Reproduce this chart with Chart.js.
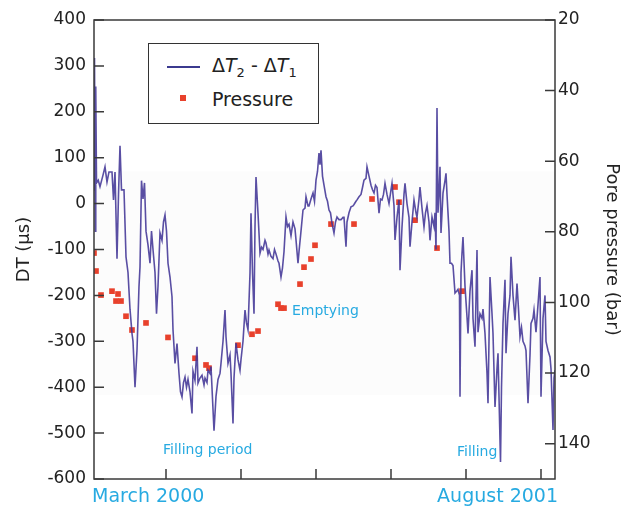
<!DOCTYPE html>
<html>
<head>
<meta charset="utf-8">
<script src="https://cdn.jsdelivr.net/npm/chart.js@4"></script>
<style>
  body { margin: 0; background: #fff; }
  #wrap { position: relative; width: 631px; height: 510px; font-family: "DejaVu Sans", sans-serif; }
  .note { position: absolute; color: #27aae1; line-height: 1; white-space: nowrap; }
  #legend { position: absolute; left: 148px; top: 43px; width: 169px; height: 79px; border: 1px solid #333; background: #fff; }
  #legend .txt { position: absolute; left: 63px; font-size: 19px; line-height: 1; color: #222; white-space: nowrap; }
  #legend .sub { font-size: 13px; position: relative; top: 5px; }
</style>
</head>
<body>
<div id="wrap">
  <canvas id="chart" width="631" height="510"></canvas>
  <div id="legend">
    <div style="position:absolute;left:18px;top:22px;width:33px;height:2px;background:#3b3a8f"></div>
    <div class="txt" style="top:12px">Δ<i>T</i><span class="sub">2</span> - Δ<i>T</i><span class="sub">1</span></div>
    <div style="position:absolute;left:31px;top:51px;width:6px;height:6px;background:#e8412c"></div>
    <div class="txt" style="top:46px">Pressure</div>
  </div>
  <div class="note" id="fillingPeriod" style="left:163px;top:442px;font-size:14px"></div>
  <div class="note" id="emptying" style="left:292px;top:303px;font-size:14px"></div>
  <div class="note" id="filling" style="left:457px;top:444px;font-size:14px"></div>
  <div class="note" id="dateStart" style="left:92px;top:486px;font-size:19px"></div>
  <div class="note" id="dateEnd" style="right:73px;top:486px;font-size:19px"></div>
</div>
<script>
// time axis in months (tick every 3 months)
const months = [0.12, 0.14, 0.17, 0.19, 0.22, 0.29, 0.36, 0.48, 0.56, 0.64, 0.72, 0.84, 0.90, 0.96, 1.04, 1.10, 1.16, 1.22, 1.32, 1.40,
  1.48, 1.56, 1.64, 1.68, 1.76, 1.84, 1.92, 1.96, 2.02, 2.08, 2.14, 2.20, 2.28, 2.36, 2.42, 2.48, 2.56, 2.62, 2.68, 2.76,
  2.84, 2.90, 2.96, 3.02, 3.08, 3.16, 3.24, 3.28, 3.36, 3.44, 3.52, 3.58, 3.64, 3.70, 3.76, 3.82, 3.88, 3.96, 4.04, 4.08,
  4.16, 4.24, 4.28, 4.36, 4.44, 4.52, 4.56, 4.64, 4.68, 4.76, 4.80, 4.92, 5.00, 5.08, 5.16, 5.20, 5.28, 5.36, 5.40, 5.48,
  5.56, 5.60, 5.68, 5.72, 5.80, 5.88, 5.96, 6.00, 6.08, 6.16, 6.22, 6.28, 6.36, 6.40, 6.46, 6.52, 6.56, 6.60, 6.68, 6.76,
  6.82, 6.88, 6.96, 7.00, 7.08, 7.12, 7.20, 7.28, 7.34, 7.40, 7.48, 7.52, 7.60, 7.66, 7.72, 7.80, 7.86, 7.92, 8.00, 8.08,
  8.16, 8.20, 8.28, 8.32, 8.40, 8.48, 8.56, 8.60, 8.68, 8.72, 8.80, 8.88, 8.94, 9.00, 9.06, 9.12, 9.16, 9.20, 9.26, 9.32,
  9.40, 9.46, 9.52, 9.58, 9.64, 9.72, 9.78, 9.84, 9.92, 10.00, 10.08, 10.12, 10.20, 10.24, 10.32, 10.40, 10.48, 10.52, 10.60, 10.64,
  10.72, 10.80, 10.86, 10.92, 11.00, 11.04, 11.12, 11.20, 11.26, 11.32, 11.38, 11.44, 11.52, 11.58, 11.64, 11.70, 11.76, 11.84, 11.92, 12.00,
  12.04, 12.12, 12.16, 12.24, 12.32, 12.36, 12.44, 12.52, 12.56, 12.64, 12.72, 12.76, 12.84, 12.92, 13.00, 13.04, 13.12, 13.16, 13.24, 13.32,
  13.38, 13.44, 13.52, 13.56, 13.64, 13.72, 13.76, 13.80, 13.84, 13.88, 13.92, 13.96, 14.00, 14.08, 14.16, 14.20, 14.24, 14.32, 14.36, 14.42,
  14.48, 14.56, 14.64, 14.68, 14.74, 14.76, 14.80, 14.84, 14.88, 14.96, 15.04, 15.08, 15.16, 15.24, 15.28, 15.36, 15.44, 15.48, 15.56, 15.64,
  15.68, 15.76, 15.84, 15.88, 15.96, 16.04, 16.08, 16.16, 16.24, 16.28, 16.38, 16.42, 16.48, 16.56, 16.60, 16.68, 16.76, 16.80, 16.88, 16.96,
  17.04, 17.10, 17.16, 17.22, 17.28, 17.36, 17.40, 17.48, 17.56, 17.60, 17.68, 17.72, 17.80, 17.88, 17.96, 18.00, 18.08, 18.16, 18.20, 18.28,
  18.36, 18.40, 18.48, 18.52, 18.56];

// ΔT2 - ΔT1 (µs)
const dtValues = [30, 317, -60, 255, 45, 51, 37, 62, 80, 47, 69, 69, 8, 69, -120, 20, 126, 30, 30, -116,
  -150, -230, -283, -300, -400, -319, -180, -138, 50, 10, 45, -60, -90, -130, -60, -100, -150, -240, -180, -64,
  -80, -40, -25, -60, -130, -160, -203, -275, -348, -305, -370, -410, -421, -390, -378, -400, -383, -410, -457, -365,
  -385, -312, -391, -380, -374, -395, -380, -390, -363, -370, -355, -495, -420, -383, -370, -348, -300, -232, -290, -348,
  -330, -370, -479, -380, -304, -340, -363, -340, -300, -232, -260, -275, -152, -21, -150, -240, -50, 58, -21, -108,
  -95, -100, -80, -86, -110, -101, -115, -120, -100, -110, -125, -130, -160, -140, -105, -29, -50, -45, -70, -40,
  -55, -79, -130, -105, -60, -14, -10, 15, -5, -5, 10, 23, 5, 51, 70, 110, 85, 116, 60, 40,
  15, 5, -14, -20, -43, -64, -40, -29, -35, -35, -30, -30, -94, -40, -20, -7, -5, -2, 5, 8,
  15, 20, 35, 51, 55, 80, 60, 40, 30, 23, 40, 35, -21, 10, 8, 20, 44, 20, 0, 30,
  44, -5, -79, -30, 8, -145, -51, 20, 44, 0, -30, -94, -40, 8, -20, -30, 10, 36, -10, -51,
  -20, -4, -40, -80, -29, -50, -20, -100, 208, -20, 23, 80, -64, 23, 50, 66, 20, -60, -130, -130,
  -135, -195, -190, -187, -200, -421, -150, -108, -73, -180, -247, -283, -190, -145, -250, -312, -101, -280, -240, -250,
  -230, -283, -369, -435, -160, -240, -283, -443, -360, -326, -563, -400, -261, -166, -326, -240, -200, -116, -200, -254,
  -174, -230, -290, -270, -300, -310, -320, -435, -330, -261, -250, -232, -280, -220, -160, -421, -250, -200, -300, -320,
  -334, -360, -493, -380, -363];

// pore pressure samples (bar)
const pressureMonths = [0.12, 0.20, 0.40, 0.84, 1.00, 1.08, 1.20, 1.40, 1.64, 2.20, 3.08, 4.16, 4.60, 4.72, 5.88, 6.44,
  6.68, 7.48, 7.60, 7.72, 8.36, 8.52, 8.80, 8.96, 9.60, 10.52, 11.24, 12.16, 12.32, 12.96, 13.84, 14.84];
const pressureValues = [86.0, 91.1, 97.9, 96.8, 99.6, 97.6, 99.6, 103.9, 107.8, 105.8, 109.9, 115.8, 117.7, 118.6, 112.1, 109.0,
  108.1, 100.5, 101.6, 101.6, 94.8, 90.0, 87.7, 83.8, 77.8, 77.8, 70.7, 67.3, 71.6, 76.7, 84.6, 96.8];

const dtTicks = [-600, -500, -400, -300, -200, -100, 0, 100, 200, 300, 400];
const pressureTicks = [20, 40, 60, 80, 100, 120, 140];
const monthTicks = [3, 6, 9, 12, 15, 18];
const dateLabels = ['March 2000', 'August 2001'];
const noteLabels = ['Filling period', 'Emptying', 'Filling'];

document.getElementById('dateStart').textContent = dateLabels[0];
document.getElementById('dateEnd').textContent = dateLabels[1];
document.getElementById('fillingPeriod').textContent = noteLabels[0];
document.getElementById('emptying').textContent = noteLabels[1];
document.getElementById('filling').textContent = noteLabels[2];

const axisColor = '#3a3a3a';

const framePlugin = {
  id: 'frame',
  beforeDatasetsDraw(chart) {
    // very faint shaded band behind the trace
    const { ctx, chartArea: a, scales } = chart;
    ctx.save();
    ctx.fillStyle = '#fcfcfc';
    const y0 = scales.y.getPixelForValue(70);
    const y1 = scales.y.getPixelForValue(-417);
    ctx.fillRect(a.left + 2, y0, a.right - a.left - 2, y1 - y0);
    ctx.restore();
  },
  afterDraw(chart) {
    // box frame + inward tick marks
    const { ctx, chartArea: a, scales } = chart;
    ctx.save();
    ctx.strokeStyle = axisColor;
    ctx.lineWidth = 1.5;
    ctx.strokeRect(a.left, a.top, a.right - a.left, a.bottom - a.top);
    ctx.beginPath();
    scales.y.ticks.forEach(t => {
      const p = scales.y.getPixelForValue(t.value);
      ctx.moveTo(a.left, p); ctx.lineTo(a.left + 10, p);
    });
    scales.y1.ticks.forEach(t => {
      const p = scales.y1.getPixelForValue(t.value);
      ctx.moveTo(a.right, p); ctx.lineTo(a.right - 10, p);
    });
    scales.x.ticks.forEach(t => {
      const p = scales.x.getPixelForValue(t.value);
      ctx.moveTo(p, a.bottom); ctx.lineTo(p, a.bottom - 10);
    });
    ctx.stroke();
    ctx.restore();
  }
};

const tickFont = { family: '"DejaVu Sans", sans-serif', size: 17 };
const titleFont = { family: '"DejaVu Sans", sans-serif', size: 18 };

new Chart(document.getElementById('chart').getContext('2d'), {
  type: 'scatter',
  data: {
    datasets: [
      {
        type: 'line',
        label: 'ΔT2 - ΔT1',
        data: months.map((m, i) => ({ x: m, y: dtValues[i] })),
        borderColor: 'rgba(66, 54, 150, 0.88)',
        borderWidth: 1.6,
        pointRadius: 0,
        tension: 0,
        yAxisID: 'y'
      },
      {
        label: 'Pressure',
        data: pressureMonths.map((m, i) => ({ x: m, y: pressureValues[i] })),
        backgroundColor: '#e8412c',
        borderWidth: 0,
        pointStyle: 'rect',
        pointRadius: 4,
        yAxisID: 'y1'
      }
    ]
  },
  options: {
    responsive: false,
    animation: false,
    layout: { padding: { top: 20, left: 0, right: 0, bottom: 0 } },
    plugins: { legend: { display: false }, tooltip: { enabled: false } },
    scales: {
      x: {
        type: 'linear',
        min: 0.12,
        max: 18.56,
        afterBuildTicks: s => { s.ticks = monthTicks.map(v => ({ value: v })); },
        afterFit: s => { s.height = 31; },
        grid: { display: false },
        border: { display: false },
        ticks: { display: false }
      },
      y: {
        position: 'left',
        min: -600,
        max: 400,
        afterBuildTicks: s => { s.ticks = dtTicks.map(v => ({ value: v })); },
        afterFit: s => { s.width = 94; },
        grid: { display: false, drawTicks: false },
        border: { display: false },
        ticks: { color: '#222', font: tickFont, padding: 8 },
        title: { display: true, text: 'DT (μs)', color: '#222', font: titleFont, padding: { top: 14 } }
      },
      y1: {
        position: 'right',
        min: 20,
        max: 150,
        reverse: true,
        afterBuildTicks: s => { s.ticks = pressureTicks.map(v => ({ value: v })); },
        afterFit: s => { s.width = 76; },
        grid: { display: false, drawTicks: false },
        border: { display: false },
        ticks: { color: '#222', font: tickFont, padding: 3 },
        title: { display: true, text: 'Pore pressure (bar)', color: '#222', font: titleFont, padding: { top: 9 } }
      }
    }
  },
  plugins: [framePlugin]
});
</script>
</body>
</html>
